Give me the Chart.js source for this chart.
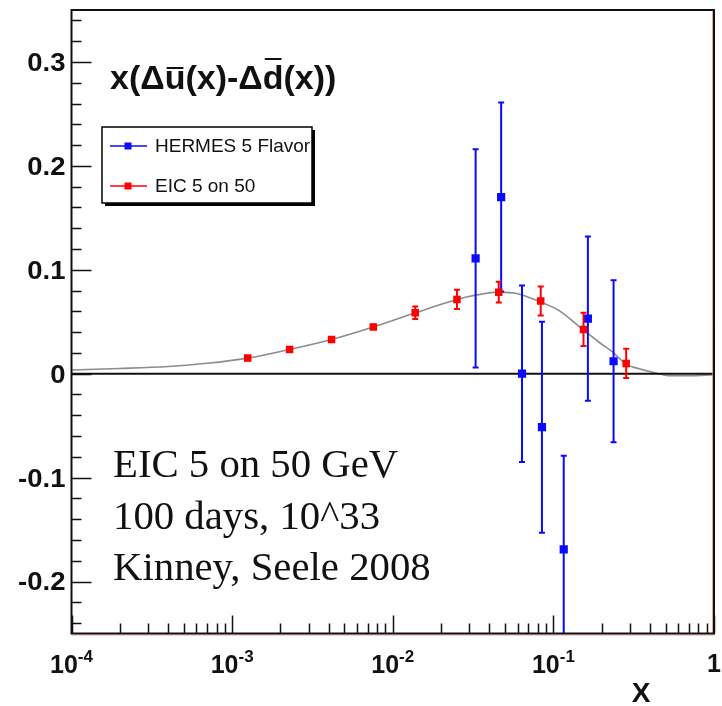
<!DOCTYPE html>
<html lang="en">
<head>
    <meta charset="UTF-8">
    <title>x(Δū(x)-Δd̄(x))</title>
    <script src="https://cdn.jsdelivr.net/npm/chart.js"></script>
    <style>
        html, body { margin: 0; padding: 0; background: #fff; }
        #wrap { width: 722px; height: 706px; position: relative; }
    </style>
</head>
<body>
<div id="wrap"><canvas id="pdfChart"></canvas></div>

<script>
    // HERMES 5 flavor extraction (blue)
    const hermesX   = [0.0328, 0.0473, 0.0638, 0.0849, 0.116, 0.164, 0.237];
    const hermesY   = [0.111, 0.170, 0.000, -0.0515, -0.169, 0.053, 0.012];
    const hermesErr = [0.105, 0.091, 0.085, 0.1015, 0.090, 0.079, 0.078];

    // EIC 5 on 50 GeV projection (red)
    const eicX   = [0.00125, 0.00228, 0.00416, 0.00757, 0.0138, 0.0251, 0.0457, 0.0834, 0.154, 0.284];
    const eicY   = [0.015, 0.0234, 0.033, 0.045, 0.0586, 0.0715, 0.0785, 0.070, 0.0426, 0.0099];
    const eicErr = [0.002, 0.002, 0.002, 0.002, 0.006, 0.0093, 0.010, 0.014, 0.016, 0.014];

    // theory curve
    const curveX = [1e-4, 2e-4, 4e-4, 7e-4, 0.00125, 0.00228, 0.00416, 0.00757, 0.0138, 0.0251, 0.0328,
                    0.0457, 0.06, 0.0834, 0.108, 0.154, 0.19, 0.237, 0.284, 0.338, 0.42, 0.52, 0.7, 1];
    const curveY = [0.0035, 0.005, 0.007, 0.010, 0.015, 0.0234, 0.033, 0.045, 0.0586, 0.0715, 0.0756,
                    0.0785, 0.077, 0.069, 0.061, 0.042, 0.031, 0.020, 0.009, 0.005, 0.0012, -0.0018, -0.002, -0.001];

    // axis ticks
    const xDecades   = [-4, -3, -2, -1, 0];
    const yTickVals  = [-0.2, -0.1, 0, 0.1, 0.2, 0.3];
    const yTickText  = ['-0.2', '-0.1', '0', '0.1', '0.2', '0.3'];
    const yMinorStep = 0.02;

    const noteLines = ['EIC 5 on 50 GeV', '100 days, 10^33', 'Kinney, Seele 2008'];

    const toPts = (xs, ys) => xs.map((x, i) => ({ x: x, y: ys[i] }));

    const SANS = '"Liberation Sans", Arial, sans-serif';
    const SERIF = '"Liberation Serif", "Times New Roman", serif';

    // text drawn slightly wider than the font's natural width
    function wideText(ctx, text, x, y, sx) {
        ctx.save();
        ctx.translate(x, y);
        ctx.scale(sx, 1);
        ctx.fillText(text, 0, 0);
        ctx.restore();
    }

    // error bars, drawn right before each dataset's markers
    const errorBars = {
        id: 'errorBars',
        beforeDatasetDraw(chart, args) {
            const ds = chart.data.datasets[args.index];
            if (!ds.errors) return;
            const { ctx, chartArea: a } = chart;
            const xs = chart.scales.x, ys = chart.scales.y;
            ctx.save();
            ctx.beginPath();
            ctx.rect(a.left, a.top, a.right - a.left, a.bottom - a.top);
            ctx.clip();
            ctx.strokeStyle = ds.borderColor;
            ctx.lineWidth = 2;
            ds.data.forEach((p, i) => {
                const px = xs.getPixelForValue(p.x);
                const top = ys.getPixelForValue(p.y + ds.errors[i]);
                const bot = ys.getPixelForValue(p.y - ds.errors[i]);
                ctx.beginPath();
                ctx.moveTo(px, top); ctx.lineTo(px, bot);
                ctx.moveTo(px - 3, top); ctx.lineTo(px + 3, top);
                ctx.moveTo(px - 3, bot); ctx.lineTo(px + 3, bot);
                ctx.stroke();
            });
            ctx.restore();
        }
    };

    // frame, inward ticks, tick labels, title, legend box and note text
    const decorations = {
        id: 'decorations',
        afterDraw(chart) {
            const { ctx, chartArea: a } = chart;
            const xs = chart.scales.x, ys = chart.scales.y;
            ctx.save();

            // frame
            ctx.strokeStyle = 'rgba(235,120,120,0.7)';
            ctx.lineWidth = 1;
            ctx.beginPath();
            ctx.moveTo(a.left, a.bottom + 1.5); ctx.lineTo(a.right, a.bottom + 1.5);
            ctx.moveTo(a.right - 1.5, a.top); ctx.lineTo(a.right - 1.5, a.bottom);
            ctx.stroke();
            ctx.strokeStyle = '#111';
            ctx.lineWidth = 2;
            ctx.strokeRect(a.left, a.top, a.right - a.left, a.bottom - a.top);

            // y ticks
            ctx.lineWidth = 1.5;
            ctx.beginPath();
            const nMin = Math.ceil(ys.min / yMinorStep), nMax = Math.floor(ys.max / yMinorStep);
            for (let n = nMin; n <= nMax; n++) {
                const v = n * yMinorStep;
                const py = Math.round(ys.getPixelForValue(v)) + 0.5;
                const major = n % 5 === 0;
                ctx.moveTo(a.left, py); ctx.lineTo(a.left + (major ? 20 : 10), py);
            }
            // x ticks (log)
            xDecades.forEach(e => {
                for (let m = 1; m <= 9; m++) {
                    const v = m * Math.pow(10, e);
                    if (v > xs.max) break;
                    const px = Math.round(xs.getPixelForValue(v)) + 0.5;
                    ctx.moveTo(px, a.bottom); ctx.lineTo(px, a.bottom - (m === 1 ? 18 : 10));
                }
            });
            ctx.stroke();

            ctx.fillStyle = '#111';

            // y tick labels
            ctx.font = 'bold 25px ' + SANS;
            ctx.textAlign = 'right';
            ctx.textBaseline = 'middle';
            yTickVals.forEach((v, i) => {
                wideText(ctx, yTickText[i], a.left - 6, ys.getPixelForValue(v) + 2, 1.1);
            });

            // x tick labels 10^n
            ctx.textAlign = 'left';
            ctx.textBaseline = 'alphabetic';
            xDecades.forEach(e => {
                const px = xs.getPixelForValue(Math.pow(10, e));
                if (e === 0) {
                    ctx.font = 'bold 25px ' + SANS;
                    const w = ctx.measureText('1').width;
                    ctx.fillText('1', px - w / 2, 672);
                    return;
                }
                ctx.font = 'bold 25px ' + SANS;
                const w1 = ctx.measureText('10').width;
                ctx.font = 'bold 17px ' + SANS;
                const sup = String(e);
                const w2 = ctx.measureText(sup).width;
                const x0 = px - (w1 + w2) / 2;
                ctx.font = 'bold 25px ' + SANS;
                ctx.fillText('10', x0, 673);
                ctx.font = 'bold 17px ' + SANS;
                ctx.fillText(sup, x0 + w1, 662);
            });

            // x axis title
            ctx.font = 'bold 28px ' + SANS;
            ctx.textAlign = 'center';
            ctx.fillText('X', 641, 702);

            // plot title with overlines
            ctx.textAlign = 'left';
            ctx.font = 'bold 34px ' + SANS;
            const parts = [['x(\u0394', 0], ['u', 1], ['(x)-\u0394', 0], ['d', 2], ['(x))', 0]];
            let tx = 110;
            const base = 89;
            ctx.lineWidth = 2;
            parts.forEach(([t, bar]) => {
                const w = ctx.measureText(t).width;
                ctx.fillText(t, tx, base);
                if (bar) {
                    const oy = bar === 1 ? base - 21 : base - 30;
                    ctx.beginPath();
                    ctx.moveTo(tx + 2, oy); ctx.lineTo(tx + w - 2, oy);
                    ctx.strokeStyle = '#111';
                    ctx.stroke();
                }
                tx += w;
            });

            // legend box with shadow
            const lx = 102, ly = 127, lw = 210, lh = 76;
            ctx.fillStyle = '#000';
            ctx.fillRect(lx + 3, ly + 3, lw, lh);
            ctx.fillStyle = '#fff';
            ctx.fillRect(lx, ly, lw, lh);
            ctx.strokeStyle = '#000';
            ctx.lineWidth = 1.5;
            ctx.strokeRect(lx, ly, lw, lh);
            ctx.save();
            ctx.beginPath();
            ctx.rect(lx, ly, lw, lh);
            ctx.clip();
            const rows = [chart.data.datasets[0], chart.data.datasets[1]];
            const rowY = [146, 186];
            rows.forEach((ds, i) => {
                const y = rowY[i];
                ctx.strokeStyle = ds.borderColor;
                ctx.lineWidth = 1.5;
                ctx.beginPath();
                ctx.moveTo(110, y); ctx.lineTo(147, y);
                ctx.stroke();
                ctx.fillStyle = ds.backgroundColor;
                ctx.fillRect(124.5, y - 3.5, 7, 7);
                ctx.fillStyle = '#111';
                ctx.font = '19px ' + SANS;
                ctx.textBaseline = 'middle';
                ctx.fillText(ds.label, 155, y + 1);
            });
            ctx.restore();

            // note text
            ctx.fillStyle = '#111';
            ctx.font = '39px ' + SERIF;
            ctx.textAlign = 'left';
            ctx.textBaseline = 'alphabetic';
            noteLines.forEach((t, i) => wideText(ctx, t, 113, 477 + i * 51.5, 1.045));

            ctx.restore();
        }
    };

    const chartCanvas = document.getElementById('pdfChart').getContext('2d');
    const pdfChart = new Chart(chartCanvas, {
        type: 'scatter',
        data: {
            datasets: [
                {
                    label: 'HERMES 5 Flavor',
                    data: toPts(hermesX, hermesY),
                    errors: hermesErr,
                    borderColor: '#0a0aff',
                    backgroundColor: '#0a0aff',
                    pointStyle: 'rect',
                    pointRadius: 5.8,
                    pointBorderWidth: 0,
                    showLine: false,
                    order: 2
                },
                {
                    label: 'EIC 5 on 50',
                    data: toPts(eicX, eicY),
                    errors: eicErr,
                    borderColor: '#ff0000',
                    backgroundColor: '#ff0000',
                    pointStyle: 'rect',
                    pointRadius: 5.3,
                    pointBorderWidth: 0,
                    showLine: false,
                    order: 1
                },
                {
                    label: 'curve',
                    data: toPts(curveX, curveY),
                    borderColor: '#8c8c8c',
                    borderWidth: 1.6,
                    pointRadius: 0,
                    showLine: true,
                    cubicInterpolationMode: 'monotone',
                    order: 4
                },
                {
                    label: 'zero',
                    data: [{ x: 1e-4, y: 0 }, { x: 1, y: 0 }],
                    borderColor: '#111',
                    borderWidth: 2,
                    pointRadius: 0,
                    showLine: true,
                    order: 3
                }
            ]
        },
        options: {
            responsive: true,
            maintainAspectRatio: false,
            devicePixelRatio: 1,
            animation: false,
            layout: { padding: { left: 71.5, top: 10, right: 8, bottom: 72.5 } },
            plugins: {
                legend: { display: false },
                tooltip: { enabled: false }
            },
            scales: {
                x: { type: 'logarithmic', min: 1e-4, max: 1, display: false },
                y: { type: 'linear', min: -0.25, max: 0.35, display: false }
            }
        },
        plugins: [errorBars, decorations]
    });
</script>
</body>
</html>
